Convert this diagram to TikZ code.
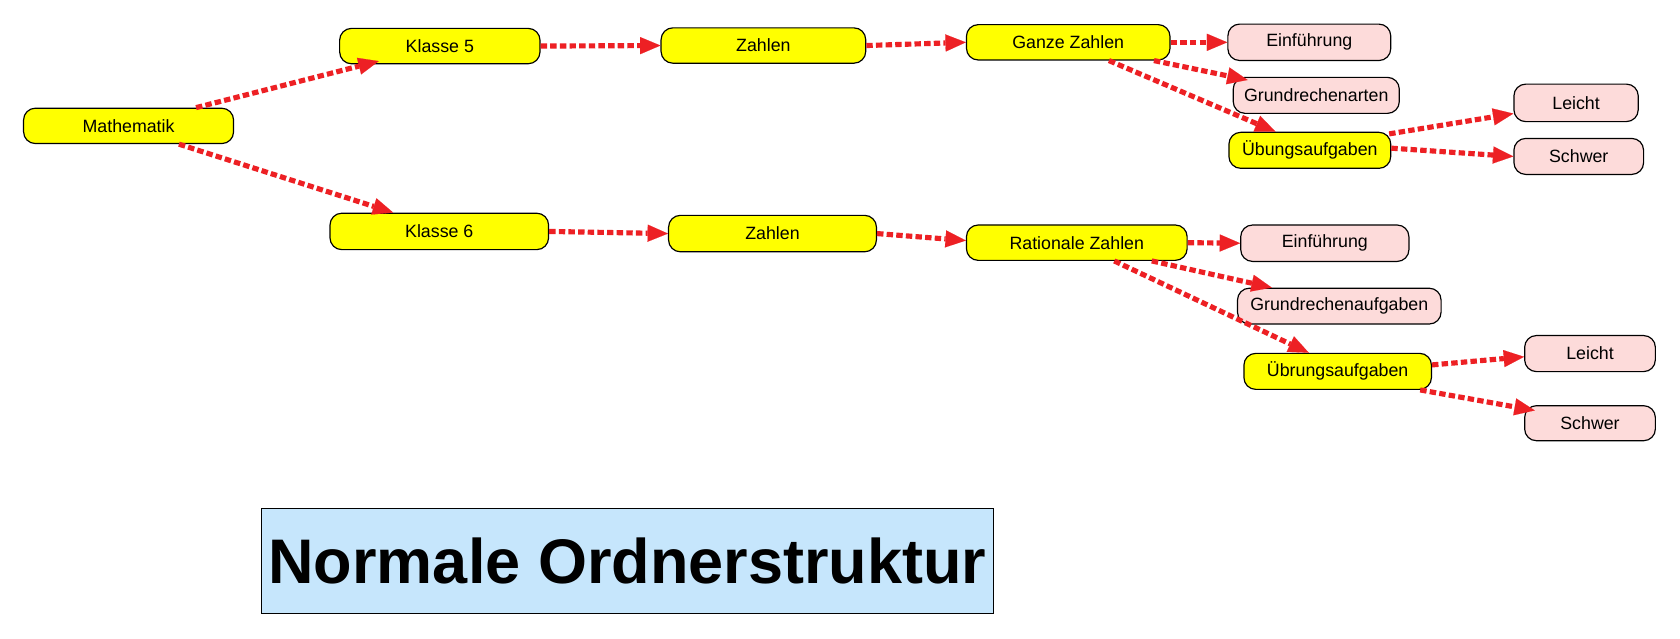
\documentclass[tikz,border=0pt]{standalone}
\usepackage{fontspec}
\setmainfont{Liberation Sans}
\usetikzlibrary{arrows.meta}
\definecolor{boxyellow}{RGB}{255,255,0}
\definecolor{boxpink}{RGB}{253,219,218}
\definecolor{titleblue}{RGB}{198,230,252}
\definecolor{arrred}{RGB}{237,32,36}
\begin{document}
\begin{tikzpicture}[x=1pt,y=-1pt,
  base/.style={draw=black, line width=1.1pt, rounded corners=11pt, inner sep=0pt,
    font=\fontsize{16.6}{20}\selectfont, text=black},
  ybox/.style={base, fill=boxyellow},
  pbox/.style={base, fill=boxpink},
  conn/.style={draw=arrred, line width=4.8pt, dash pattern=on 6pt off 3pt,
    -{Triangle[length=19pt,width=16pt,line width=0.1pt]}}
]
\path[use as bounding box, fill=white] (0,0) rectangle (1568,596);

% upper branch
\node[ybox, minimum width=196pt, minimum height=33pt] (math) at (120,117.5) {Mathematik};
\node[ybox, minimum width=187pt, minimum height=33pt] (k5) at (410.5,43) {Klasse 5};
\node[ybox, minimum width=191pt, minimum height=33pt] (z1) at (712.5,42.5) {Zahlen};
\node[ybox, minimum width=190pt, minimum height=33pt] (gz) at (997,39.5) {Ganze Zahlen};
\node[pbox, minimum width=152pt, minimum height=34pt] (e1) at (1222,39.5) {Einführung};
\node[pbox, minimum width=155pt, minimum height=33.6pt] (gr1) at (1228.5,89) {Grundrechenarten};
\node[ybox, minimum width=151pt, minimum height=33.6pt] (u1) at (1222.5,140.3) {Übungsaufgaben};
\node[pbox, minimum width=116pt, minimum height=35pt] (l1) at (1471,96) {Leicht};
\node[pbox, minimum width=121pt, minimum height=33.6pt] (s1) at (1473.5,146) {Schwer};

% lower branch
\node[ybox, minimum width=204pt, minimum height=34pt] (k6) at (410,216) {Klasse 6};
\node[ybox, minimum width=194pt, minimum height=34pt] (z2) at (721,218) {Zahlen};
\node[ybox, minimum width=206pt, minimum height=33pt] (rz) at (1005,226.5) {Rationale Zahlen};
\node[pbox, minimum width=157pt, minimum height=34pt] (e2) at (1236.5,227) {Einführung};
\node[pbox, minimum width=190pt, minimum height=33.4pt] (gr2) at (1250,285.7) {Grundrechenaufgaben};
\node[ybox, minimum width=175pt, minimum height=33.6pt] (u2) at (1248.5,346.6) {Übrungsaufgaben};
\node[pbox, minimum width=122pt, minimum height=33.7pt] (l2) at (1484,330) {Leicht};
\node[pbox, minimum width=122pt, minimum height=32.7pt] (s2) at (1484,395) {Schwer};

% title
\node[draw=black, line width=1pt, fill=titleblue, minimum width=683pt, minimum height=98pt,
  inner sep=0pt, font=\fontsize{58.8}{60}\selectfont\bfseries] (title) at (585.5,524) {Normale Ordnerstruktur};

% connectors upper
\draw[conn] ([xshift=63pt]math.north) -- ([xshift=-57pt,yshift=3pt]k5.south);
\draw[conn] ([xshift=47pt]math.south) -- ([xshift=-43pt]k6.north);
\draw[conn] (k5.east) -- (z1.west);
\draw[conn] (z1.east) -- (gz.west);
\draw[conn] (gz.east) -- (e1.west);
\draw[conn] ([xshift=80pt]gz.south) -- ([xshift=14pt,yshift=-3pt]gr1.north west);
\draw[conn] ([xshift=38pt]gz.south) -- ([xshift=-32pt]u1.north);
\draw[conn] ([shift={(-2pt,-2pt)}]u1.north east) -- ([yshift=-10pt]l1.west);
\draw[conn] ([yshift=2pt]u1.east) -- (s1.west);

% connectors lower
\draw[conn] (k6.east) -- (z2.west);
\draw[conn] (z2.east) -- ([yshift=2pt]rz.west);
\draw[conn] (rz.east) -- (e2.west);
\draw[conn] ([xshift=70pt]rz.south) -- ([xshift=-63pt]gr2.north);
\draw[conn] ([xshift=35pt]rz.south) -- ([xshift=-27pt]u2.north);
\draw[conn] ([yshift=6pt]u2.east) -- ([yshift=-3pt]l2.west);
\draw[conn] ([xshift=-11pt]u2.south east) -- ([xshift=10pt,yshift=-5pt]s2.north west);
\end{tikzpicture}
\end{document}
